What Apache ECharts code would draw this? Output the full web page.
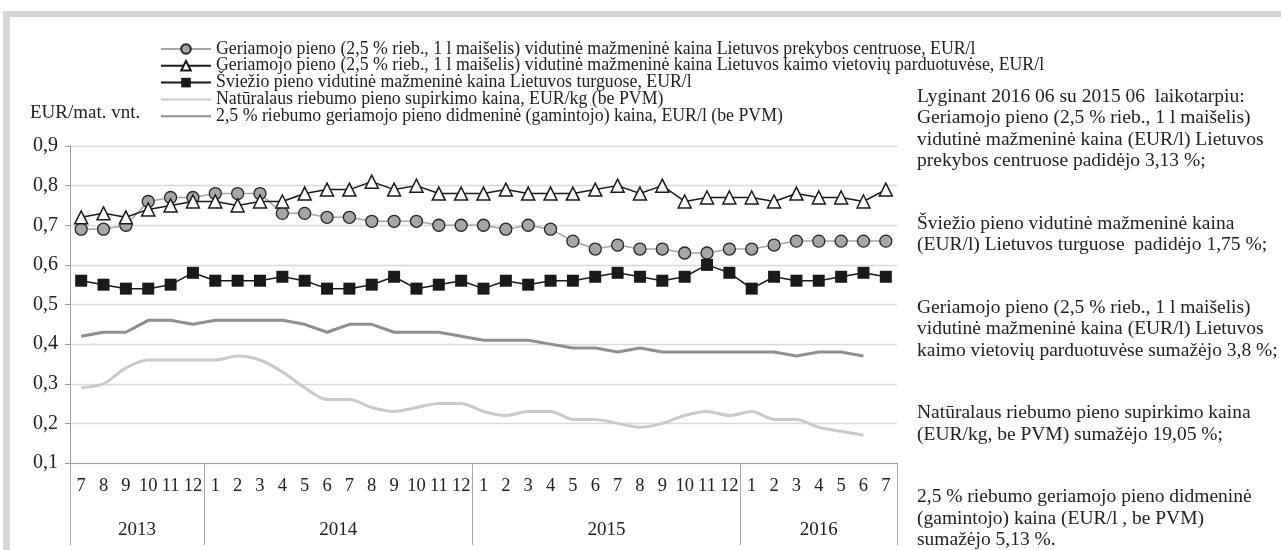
<!DOCTYPE html>
<html>
<head>
<meta charset="utf-8">
<script src="https://cdn.jsdelivr.net/npm/echarts@6/dist/echarts.min.js"></script>
<style>
  html, body { margin: 0; padding: 0; background: #fff; }
  #frame { position: absolute; left: 3px; top: 11px; width: 1290px; height: 560px;
           border-top: 6px solid #d6d6d6; border-left: 7px solid #d6d6d6; }
  #chart { position: absolute; left: 0; top: 0; width: 1281px; height: 550px; }
</style>
</head>
<body>
<div id="frame"></div>
<div id="chart"></div>
<script>
// months 2013-07 .. 2016-07
const months = ['7','8','9','10','11','12',
  '1','2','3','4','5','6','7','8','9','10','11','12',
  '1','2','3','4','5','6','7','8','9','10','11','12',
  '1','2','3','4','5','6','7']
const years = ['2013', '2014', '2015', '2016']
const monthsPerYear = [6, 12, 12, 7]

const retailCentres = [0.69,0.69,0.70,0.76,0.77,0.77,0.78,0.78,0.78,0.73,0.73,0.72,0.72,0.71,0.71,0.71,0.70,0.70,
  0.70,0.69,0.70,0.69,0.66,0.64,0.65,0.64,0.64,0.63,0.63,0.64,0.64,0.65,0.66,0.66,0.66,0.66,0.66]
const ruralShops = [0.72,0.73,0.72,0.74,0.75,0.76,0.76,0.75,0.76,0.76,0.78,0.79,0.79,0.81,0.79,0.80,0.78,0.78,
  0.78,0.79,0.78,0.78,0.78,0.79,0.80,0.78,0.80,0.76,0.77,0.77,0.77,0.76,0.78,0.77,0.77,0.76,0.79]
const marketFresh = [0.56,0.55,0.54,0.54,0.55,0.58,0.56,0.56,0.56,0.57,0.56,0.54,0.54,0.55,0.57,0.54,0.55,0.56,
  0.54,0.56,0.55,0.56,0.56,0.57,0.58,0.57,0.56,0.57,0.60,0.58,0.54,0.57,0.56,0.56,0.57,0.58,0.57]
const rawMilk = [0.29,0.30,0.34,0.36,0.36,0.36,0.36,0.37,0.36,0.33,0.29,0.26,0.26,0.24,0.23,0.24,0.25,0.25,
  0.23,0.22,0.23,0.23,0.21,0.21,0.20,0.19,0.20,0.22,0.23,0.22,0.23,0.21,0.21,0.19,0.18,0.17,null]
const wholesale = [0.42,0.43,0.43,0.46,0.46,0.45,0.46,0.46,0.46,0.46,0.45,0.43,0.45,0.45,0.43,0.43,0.43,0.42,
  0.41,0.41,0.41,0.40,0.39,0.39,0.38,0.39,0.38,0.38,0.38,0.38,0.38,0.38,0.37,0.38,0.38,0.37,null]

const seriesNames = [
  'Geriamojo pieno (2,5 % rieb., 1 l maišelis) vidutinė mažmeninė kaina Lietuvos prekybos centruose, EUR/l',
  'Geriamojo pieno (2,5 % rieb., 1 l maišelis) vidutinė mažmeninė kaina Lietuvos kaimo vietovių parduotuvėse, EUR/l',
  'Šviežio pieno vidutinė mažmeninė kaina Lietuvos turguose, EUR/l',
  'Natūralaus riebumo pieno supirkimo kaina, EUR/kg (be PVM)',
  '2,5 % riebumo geriamojo pieno didmeninė (gamintojo) kaina, EUR/l (be PVM)'
]

// note on the right, one entry per paragraph
const notes = [
  ['Lyginant 2016 06 su 2015 06  laikotarpiu:',
   'Geriamojo pieno (2,5 % rieb., 1 l maišelis)',
   'vidutinė mažmeninė kaina (EUR/l) Lietuvos',
   'prekybos centruose padidėjo 3,13 %;'],
  ['Šviežio pieno vidutinė mažmeninė kaina',
   '(EUR/l) Lietuvos turguose  padidėjo 1,75 %;'],
  ['Geriamojo pieno (2,5 % rieb., 1 l maišelis)',
   'vidutinė mažmeninė kaina (EUR/l) Lietuvos',
   'kaimo vietovių parduotuvėse sumažėjo 3,8 %;'],
  ['Natūralaus riebumo pieno supirkimo kaina',
   '(EUR/kg, be PVM) sumažėjo 19,05 %;'],
  ['2,5 % riebumo geriamojo pieno didmeninė',
   '(gamintojo) kaina (EUR/l , be PVM)',
   'sumažėjo 5,13 %.']
]

const serif = '"Liberation Serif", "DejaVu Serif", serif'
const ink = '#222'

// year axis on half-month steps so labels sit mid-year and ticks on year edges
const yearSlots = []
const yearEdges = new Set([0])
const yearMids = new Set()
let pos = 0
years.forEach((y, i) => {
  const n = monthsPerYear[i] * 2
  const mid = pos + Math.floor(n / 2)
  for (let k = 0; k < n; k++) yearSlots.push(pos + k === mid ? y : '')
  yearMids.add(mid)
  pos += n
  yearEdges.add(pos)
})
yearSlots.push('')

// paragraph blocks of the note
const noteLineH = 21.5
const noteParaGap = 41
const noteGraphics = []
let noteTop = 86
notes.forEach((para) => {
  noteGraphics.push({
    type: 'text', left: 917, top: noteTop,
    style: { text: para.join('\n'), font: '19.5px ' + serif, fill: ink, lineHeight: noteLineH }
  })
  noteTop += para.length * noteLineH + noteParaGap
})

// plain lines (no marker) in the legend for the last two series
const legendData = seriesNames.map((name, i) =>
  i >= 3 ? { name, itemStyle: { opacity: 0 } } : { name })

const chart = echarts.init(document.getElementById('chart'))

const option = {
  backgroundColor: 'transparent',
  animation: false,
  textStyle: { fontFamily: serif, color: ink },
  grid: { left: 70, right: 384, top: 146, bottom: 87 },
  legend: {
    orient: 'vertical',
    left: 155,
    top: 35,
    itemWidth: 50,
    itemHeight: 12,
    itemGap: -1.2,
    data: legendData,
    textStyle: { fontFamily: serif, fontSize: 17.8, color: ink }
  },
  xAxis: [
    {
      type: 'category',
      data: months,
      boundaryGap: true,
      axisLine: { lineStyle: { color: '#999', width: 1 } },
      axisTick: { interval: 0, length: 37, lineStyle: { color: '#aaa' } },
      axisLabel: { interval: 0, margin: 14, fontSize: 18.5, fontFamily: serif, color: ink }
    },
    {
      type: 'category',
      data: yearSlots,
      boundaryGap: false,
      position: 'bottom',
      axisLine: { show: false },
      axisTick: { interval: (i) => yearEdges.has(i), length: 82, lineStyle: { color: '#aaa' } },
      axisLabel: { interval: (i) => yearMids.has(i), margin: 58, fontSize: 19, fontFamily: serif, color: ink }
    }
  ],
  yAxis: {
    type: 'value',
    min: 0.1,
    max: 0.9,
    interval: 0.1,
    axisLine: { show: true, lineStyle: { color: '#999' } },
    axisTick: { show: true, length: 5, lineStyle: { color: '#999' } },
    axisLabel: {
      fontSize: 20, fontFamily: serif, color: ink, margin: 12,
      formatter: (v) => v.toFixed(1).replace('.', ',')
    },
    splitLine: { lineStyle: { color: '#d9d9d9', width: 1.3 } }
  },
  graphic: [
    {
      type: 'text', left: 30, top: 104,
      style: { text: 'EUR/mat. vnt.', font: '19px ' + serif, fill: ink }
    },
    ...noteGraphics
  ],
  series: [
    {
      name: seriesNames[0], type: 'line', data: retailCentres,
      symbol: 'circle', symbolSize: 12,
      itemStyle: { color: '#a6a6a6', borderColor: '#262626', borderWidth: 1.3 },
      lineStyle: { color: '#a6a6a6', width: 1.5 }, z: 3
    },
    {
      name: seriesNames[1], type: 'line', data: ruralShops,
      symbol: 'triangle', symbolSize: 13,
      itemStyle: { color: '#fff', borderColor: '#1a1a1a', borderWidth: 1.5 },
      lineStyle: { color: '#1a1a1a', width: 1.5 }, z: 4
    },
    {
      name: seriesNames[2], type: 'line', data: marketFresh,
      symbol: 'rect', symbolSize: 12,
      itemStyle: { color: '#1a1a1a' },
      lineStyle: { color: '#1a1a1a', width: 1.5 }
    },
    {
      name: seriesNames[3], type: 'line', data: rawMilk,
      symbol: 'none', smooth: 0.3,
      itemStyle: { color: '#cacaca' },
      lineStyle: { color: '#cacaca', width: 3 }
    },
    {
      name: seriesNames[4], type: 'line', data: wholesale,
      symbol: 'none',
      itemStyle: { color: '#8f8f8f' },
      lineStyle: { color: '#8f8f8f', width: 3 }
    }
  ]
}

chart.setOption(option)
</script>
</body>
</html>
